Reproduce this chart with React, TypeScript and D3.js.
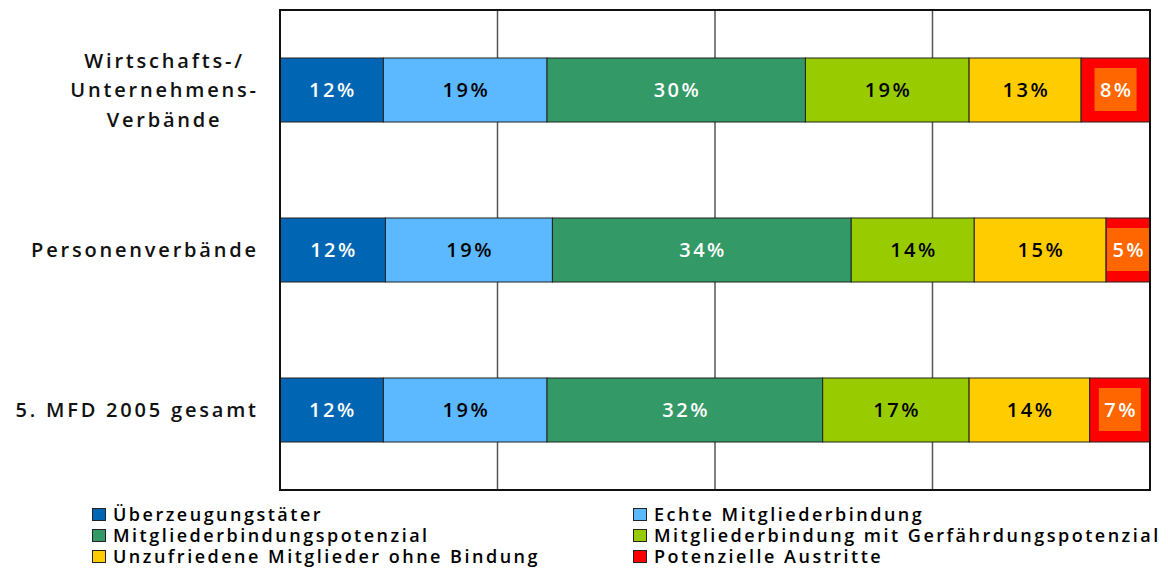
import React, { useEffect, useRef } from "react";
import * as d3 from "d3";

// Categories (top to bottom) and the segment labels
const categories: string[][] = [
  ["Wirtschafts-/", "Unternehmens-", "Verbände"],
  ["Personenverbände"],
  ["5. MFD 2005 gesamt"],
];
const segments = [
  "Überzeugungstäter",
  "Echte Mitgliederbindung",
  "Mitgliederbindungspotenzial",
  "Mitgliederbindung mit Gerfährdungspotenzial",
  "Unzufriedene Mitglieder ohne Bindung",
  "Potenzielle Austritte",
];
// Shares in percent, one array per category
const wirtschaftsValues = [12, 19, 30, 19, 13, 8];
const personenValues = [12, 19, 34, 14, 15, 5];
const gesamtValues = [12, 19, 32, 17, 14, 7];
const rows = [wirtschaftsValues, personenValues, gesamtValues];

const colors = ["#0066B3", "#5CB8FF", "#339966", "#99CC00", "#FFCC00", "#FF0000"];
const labelColors = ["#fff", "#000", "#fff", "#000", "#000", "#fff"];
const xTicks = [0, 0.25, 0.5, 0.75, 1];

const W = 1168;
const H = 571;
const plot = { left: 280, right: 1150, top: 10, bottom: 490 };
const FONT = "'Open Sans', 'DejaVu Sans', sans-serif";

export default function App() {
  const ref = useRef<SVGSVGElement>(null);

  useEffect(() => {
    const svg = d3.select(ref.current);
    svg.selectAll("*").remove();

    const x = d3.scaleLinear().domain([0, 1]).range([plot.left, plot.right]);
    const y = d3
      .scaleBand<number>()
      .domain(d3.range(rows.length))
      .range([plot.top, plot.bottom])
      .paddingInner(0.6)
      .paddingOuter(0.3);

    svg
      .append("defs")
      .append("clipPath")
      .attr("id", "plotClip")
      .append("rect")
      .attr("x", plot.left)
      .attr("y", plot.top)
      .attr("width", plot.right - plot.left)
      .attr("height", plot.bottom - plot.top);

    // vertical gridlines
    svg
      .append("g")
      .selectAll("line")
      .data(xTicks.slice(1, -1))
      .join("line")
      .attr("x1", (d) => x(d))
      .attr("x2", (d) => x(d))
      .attr("y1", plot.top)
      .attr("y2", plot.bottom)
      .attr("stroke", "#555")
      .attr("stroke-width", 1.5);

    // stacked 100% bars
    const stacked = rows.map((vals) => {
      const total = d3.sum(vals);
      let acc = 0;
      return vals.map((v, i) => {
        const x0 = acc / total;
        acc += v;
        return { v, i, x0, x1: acc / total };
      });
    });

    const rowG = svg
      .append("g")
      .selectAll("g")
      .data(stacked)
      .join("g")
      .attr("transform", (_, r) => `translate(0,${y(r)})`);

    rowG
      .selectAll("rect")
      .data((d) => d)
      .join("rect")
      .attr("x", (d) => x(d.x0))
      .attr("width", (d) => x(d.x1) - x(d.x0))
      .attr("y", 0)
      .attr("height", y.bandwidth())
      .attr("fill", (d) => colors[d.i])
      .attr("stroke", "#222")
      .attr("stroke-width", 1);

    // orange box behind the last segment's label
    rowG
      .append("rect")
      .attr("clip-path", "url(#plotClip)")
      .datum((d) => d[d.length - 1])
      .attr("x", (d) => (x(d.x0) + x(d.x1)) / 2 - 21)
      .attr("y", y.bandwidth() / 2 - 22)
      .attr("width", 42)
      .attr("height", 43)
      .attr("fill", "#FF6600");

    const ls = 2.5;
    rowG
      .selectAll("text.val")
      .data((d) => d)
      .join("text")
      .attr("class", "val")
      .attr("x", (d) => (x(d.x0) + x(d.x1)) / 2 + ls / 2)
      .attr("y", y.bandwidth() / 2)
      .attr("dy", "0.36em")
      .attr("text-anchor", "middle")
      .attr("font-family", FONT)
      .attr("font-size", 20)
      .attr("font-weight", 600)
      .attr("letter-spacing", ls)
      .attr("fill", (d) => labelColors[d.i])
      .text((d) => `${d.v}%`);

    // plot frame
    svg
      .append("rect")
      .attr("x", plot.left)
      .attr("y", plot.top)
      .attr("width", plot.right - plot.left)
      .attr("height", plot.bottom - plot.top)
      .attr("fill", "none")
      .attr("stroke", "#111")
      .attr("stroke-width", 2);

    // category labels: block right-aligned, lines centred within it
    const catLs = 2.8;
    const rightEdge = 256 + catLs;
    const lineGap = 29.5;
    categories.forEach((lines, r) => {
      const cy = (y(r) as number) + y.bandwidth() / 2;
      const g = svg.append("g");
      const texts = g
        .selectAll("text")
        .data(lines)
        .join("text")
        .attr("y", (_, k) => cy + (k - (lines.length - 1) / 2) * lineGap)
        .attr("dy", "0.36em")
        .attr("font-family", FONT)
        .attr("font-size", 20)
        .attr("font-weight", 600)
        .attr("letter-spacing", catLs)
        .attr("fill", "#111")
        .text((d) => d);
      let maxW = 0;
      texts.each(function () {
        maxW = Math.max(maxW, (this as SVGTextElement).getComputedTextLength());
      });
      texts.attr("text-anchor", "middle").attr("x", rightEdge - maxW / 2);
    });

    // legend
    const legX = [92, 633];
    const legY = [521, 542, 563];
    const leg = svg
      .append("g")
      .selectAll("g")
      .data(segments)
      .join("g")
      .attr("transform", (_, i) => `translate(${legX[i % 2]},${legY[Math.floor(i / 2)]})`);
    leg
      .append("rect")
      .attr("x", 0.5)
      .attr("y", -12.5)
      .attr("width", 13)
      .attr("height", 12)
      .attr("fill", (_, i) => colors[i])
      .attr("stroke", "#222")
      .attr("stroke-width", 1);
    leg
      .append("text")
      .attr("x", 21)
      .attr("y", 0)
      .attr("font-family", FONT)
      .attr("font-size", 18)
      .attr("font-weight", 600)
      .attr("letter-spacing", 2.5)
      .attr("fill", "#000")
      .text((d) => d);
  }, []);

  return (
    <svg
      ref={ref}
      width={W}
      height={H}
      style={{ position: "absolute", left: 0, top: 0, background: "#fff" }}
    />
  );
}
